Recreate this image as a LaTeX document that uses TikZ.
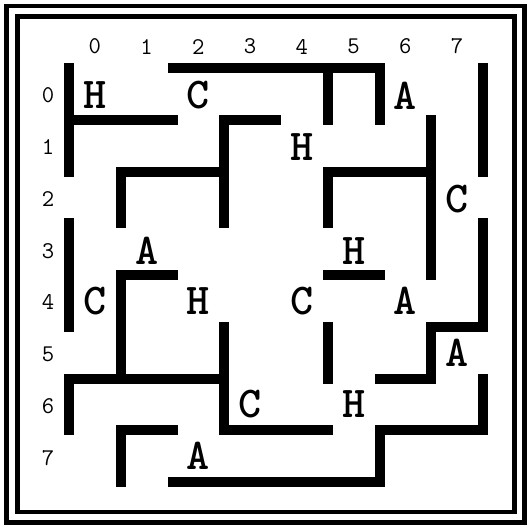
\documentclass[tikz,border=0pt]{standalone}
\begin{document}
\begin{tikzpicture}[x=1pt,y=-1pt,
  frame/.style={line width=4.6pt},
  wall/.style={line width=10pt, line cap=rect, line join=miter},
  letter/.style={font=\ttfamily\bfseries\fontsize{44}{44}\selectfont, inner sep=0pt},
  idx/.style={font=\ttfamily\fontsize{24}{24}\selectfont, inner sep=0pt}]
\useasboundingbox (0,0) rectangle (530,531);
\fill[white] (0,0) rectangle (530,531);
\draw[frame] (6.2,5.8) rectangle (524.2,522.5);
\draw[frame] (17.2,16.5) rectangle (514.2,511.8);
\begin{scope}[shift={(69pt,-68pt)}, x=51.75pt, y=-51.75pt]
  % walls
  \draw[wall] (0,0) -- (0,2);
  \draw[wall] (0,1) -- (2,1);
  \draw[wall] (2,0) -- (6,0) -- (6,1);
  \draw[wall] (5,0) -- (5,1);
  \draw[wall] (4,1) -- (3,1) -- (3,3);
  \draw[wall] (1,3) -- (1,2) -- (3,2);
  \draw[wall] (0,3) -- (0,5);
  \draw[wall] (5,3) -- (5,2) -- (7,2);
  \draw[wall] (7,1) -- (7,4);
  \draw[wall] (8,0) -- (8,2);
  \draw[wall] (8,3) -- (8,5) -- (7,5) -- (7,6) -- (6,6);
  \draw[wall] (5,4) -- (6,4);
  \draw[wall] (5,5) -- (5,6);
  \draw[wall] (8,6) -- (8,7) -- (6,7) -- (6,8) -- (2,8);
  \draw[wall] (3,5) -- (3,7) -- (5,7);
  \draw[wall] (0,7) -- (0,6) -- (3,6);
  \draw[wall] (2,4) -- (1,4) -- (1,6);
  \draw[wall] (1,8) -- (1,7) -- (2,7);
  % column and row indices
  \foreach \i in {0,...,7} {
    \node[idx] (col\i) at (\i+0.5,-0.415) {\i};
    \node[idx] (row\i) at (-0.406,\i+0.53) {\i};
  }
  % letters
  \node[letter] (h00) at (0.5,0.53) {H};
  \node[letter] (c20) at (2.5,0.53) {C};
  \node[letter] (a60) at (6.5,0.53) {A};
  \node[letter] (h41) at (4.5,1.53) {H};
  \node[letter] (c72) at (7.5,2.53) {C};
  \node[letter] (a13) at (1.5,3.53) {A};
  \node[letter] (h53) at (5.5,3.53) {H};
  \node[letter] (c04) at (0.5,4.5) {C};
  \node[letter] (h24) at (2.5,4.5) {H};
  \node[letter] (c44) at (4.5,4.5) {C};
  \node[letter] (a64) at (6.5,4.5) {A};
  \node[letter] (a75) at (7.5,5.5) {A};
  \node[letter] (c36) at (3.5,6.5) {C};
  \node[letter] (h56) at (5.5,6.5) {H};
  \node[letter] (a27) at (2.5,7.5) {A};
\end{scope}
\end{tikzpicture}
\end{document}
